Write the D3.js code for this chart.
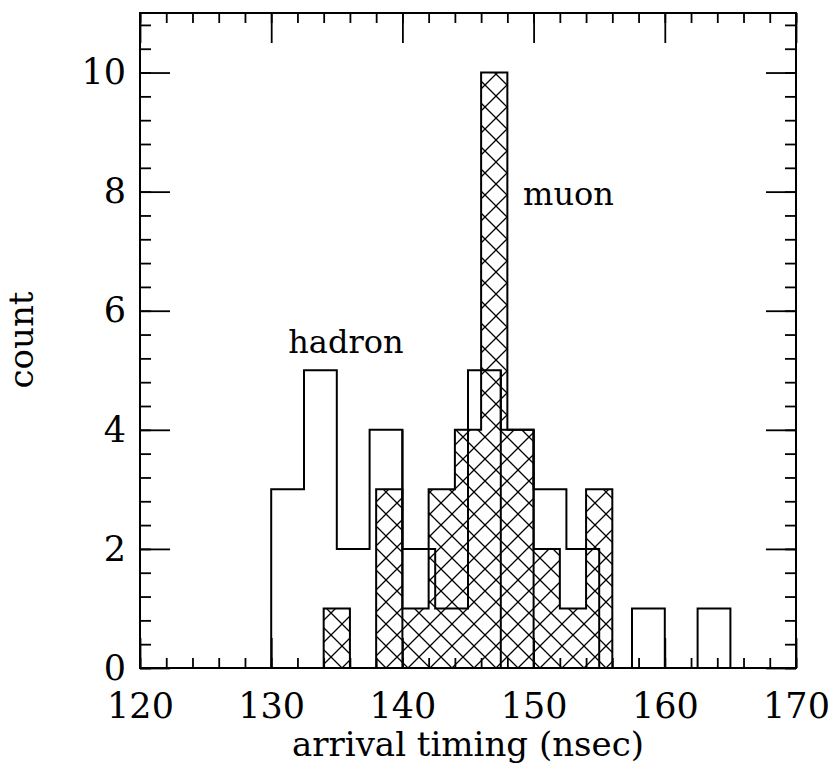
<!DOCTYPE html>
<html>
<head>
<meta charset="utf-8">
<script src="https://cdn.jsdelivr.net/npm/d3@7"></script>
<style>
  html, body { margin: 0; padding: 0; background: #fff; }
  svg { display: block; }
  text { font-family: "DejaVu Serif", serif; fill: #000; }
</style>
</head>
<body>
<svg id="chart" width="834" height="764"></svg>
<script>
// ---- data ----
const hadronBinStarts = [130, 132.5, 135, 137.5, 140, 142.5, 145, 147.5, 150, 152.5, 155, 157.5, 160, 162.5];
const hadronCounts    = [3,   5,     2,   4,     2,   1,     5,   4,     3,   2,     0,   1,     0,   1];
const hadronBinWidth = 2.5;
// hadron bin edges whose vertical line is drawn down to the baseline in the reference
const hadronFullEdges = [140, 147.5, 150];

const muonBinStarts = [134, 136, 138, 140, 142, 144, 146, 148, 150, 152, 154];
const muonCounts    = [1,   0,   3,   1,   3,   4,   10,  4,   2,   1,   3];
const muonBinWidth = 2;

const xMajorTicks = [120, 130, 140, 150, 160, 170];
const yMajorTicks = [0, 2, 4, 6, 8, 10];
const xMinorTicks = d3.range(120, 170.001, 2);
const yMinorTicks = d3.range(0, 11.001, 0.4).map(v => +v.toFixed(2));

const xTitle = "arrival timing (nsec)";
const yTitle = "count";
const labels = [{text: "hadron", x: 131.3, y: 5.29}, {text: "muon", x: 149.2, y: 7.77}];

// ---- layout ----
const svg = d3.select("#chart");
const L = 140, R = 796, T = 13, B = 668;
const x = d3.scaleLinear().domain([120, 170]).range([L, R]);
const y = d3.scaleLinear().domain([0, 11]).range([B, T]);

// hatch pattern
const defs = svg.append("defs");
const s = 22;
const pat = defs.append("pattern")
  .attr("id", "hatch").attr("patternUnits", "userSpaceOnUse")
  .attr("width", s).attr("height", s).attr("x", L + 4).attr("y", B);
pat.append("path")
  .attr("d", `M0,0L${s},${s}M${s},0L0,${s}M-2,${s-2}L2,${s+2}M${s-2},-2L${s+2},2`)
  .attr("stroke", "#000").attr("stroke-width", 1.3).attr("fill", "none");

function outline(starts, counts, w) {
  const pts = [[starts[0], 0]];
  starts.forEach((b, i) => {
    pts.push([b, counts[i]]);
    pts.push([b + w, counts[i]]);
  });
  pts.push([starts[starts.length - 1] + w, 0]);
  return pts;
}
const line = d3.line().x(d => x(d[0])).y(d => y(d[1]));

const muonPts = outline(muonBinStarts, muonCounts, muonBinWidth);
const hadronPts = outline(hadronBinStarts, hadronCounts, hadronBinWidth);

// muon hatched fill
svg.append("path").attr("d", line(muonPts) + "Z")
  .attr("fill", "url(#hatch)").attr("stroke", "none");
// hadron outline
svg.append("path").attr("d", line(hadronPts))
  .attr("fill", "none").attr("stroke", "#000").attr("stroke-width", 2);
// full-height hadron edges
svg.selectAll("line.fe").data(hadronFullEdges).enter().append("line").attr("class", "fe")
  .attr("x1", d => x(d)).attr("x2", d => x(d))
  .attr("y1", y(0))
  .attr("y2", d => {
    const i = hadronBinStarts.findIndex(b => Math.abs(b - d) < 1e-6);
    return y(Math.max(hadronCounts[i] || 0, hadronCounts[i - 1] || 0));
  })
  .attr("stroke", "#000").attr("stroke-width", 2);
// muon outline
svg.append("path").attr("d", line(muonPts))
  .attr("fill", "none").attr("stroke", "#000").attr("stroke-width", 2);

// axes (ticks inward on all four sides)
function styleAxis(g) {
  g.select(".domain").remove();
  g.selectAll("line").attr("stroke", "#000").attr("stroke-width", 1.8);
}
svg.append("g").attr("transform", `translate(0,${B})`)
  .call(d3.axisBottom(x).tickValues(xMinorTicks).tickSize(-10).tickFormat(""))
  .call(styleAxis);
const xb = svg.append("g").attr("transform", `translate(0,${B})`)
  .call(d3.axisBottom(x).tickValues(xMajorTicks).tickSize(-30).tickPadding(25).tickFormat(d3.format("d")))
  .call(styleAxis);
xb.selectAll("text").attr("font-size", 35).attr("font-family", "DejaVu Serif, serif").attr("fill", "#000");

svg.append("g").attr("transform", `translate(0,${T})`)
  .call(d3.axisTop(x).tickValues(xMinorTicks).tickSize(-10).tickFormat(""))
  .call(styleAxis);
svg.append("g").attr("transform", `translate(0,${T})`)
  .call(d3.axisTop(x).tickValues(xMajorTicks).tickSize(-30).tickFormat(""))
  .call(styleAxis);

svg.append("g").attr("transform", `translate(${L},0)`)
  .call(d3.axisLeft(y).tickValues(yMinorTicks).tickSize(-11).tickFormat(""))
  .call(styleAxis);
const yl = svg.append("g").attr("transform", `translate(${L},0)`)
  .call(d3.axisLeft(y).tickValues(yMajorTicks).tickSize(-30).tickPadding(14).tickFormat(d3.format("d")))
  .call(styleAxis);
yl.selectAll("text").attr("font-size", 35).attr("font-family", "DejaVu Serif, serif").attr("fill", "#000");

svg.append("g").attr("transform", `translate(${R},0)`)
  .call(d3.axisRight(y).tickValues(yMinorTicks).tickSize(-11).tickFormat(""))
  .call(styleAxis);
svg.append("g").attr("transform", `translate(${R},0)`)
  .call(d3.axisRight(y).tickValues(yMajorTicks).tickSize(-30).tickFormat(""))
  .call(styleAxis);

// frame
svg.append("rect").attr("x", L).attr("y", T).attr("width", R - L).attr("height", B - T)
  .attr("fill", "none").attr("stroke", "#000").attr("stroke-width", 2);

// titles
svg.append("text").attr("x", (L + R) / 2).attr("y", 756)
  .attr("text-anchor", "middle").attr("font-size", 34).text(xTitle);
svg.append("text").attr("transform", "translate(33,340) rotate(-90)")
  .attr("text-anchor", "middle").attr("font-size", 34).text(yTitle);

// series labels
svg.selectAll("text.lbl").data(labels).enter().append("text").attr("class", "lbl")
  .attr("x", d => x(d.x)).attr("y", d => y(d.y))
  .attr("font-size", 32).text(d => d.text);
</script>
</body>
</html>
